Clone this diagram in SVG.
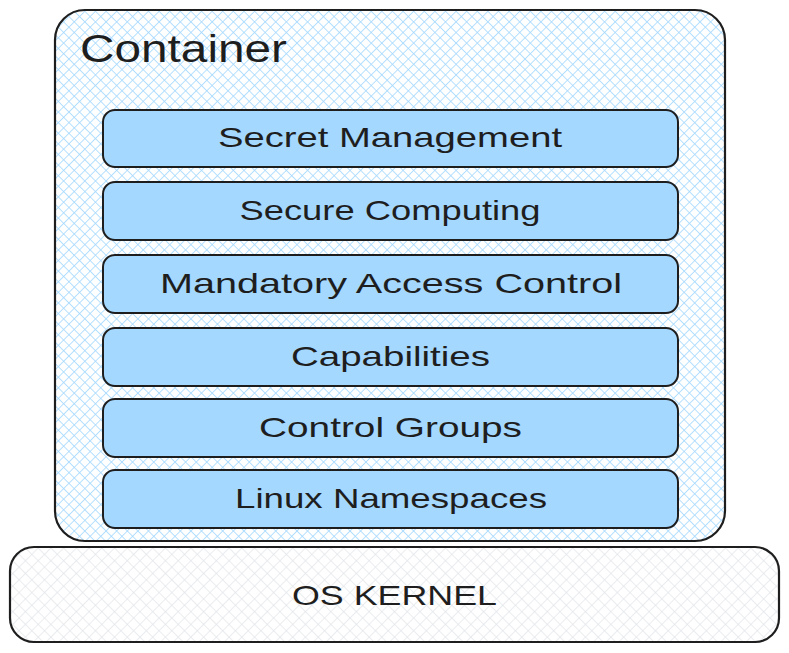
<svg xmlns="http://www.w3.org/2000/svg" width="789" height="653" viewBox="0 0 789 653">
<defs>
<pattern id="hb" patternUnits="userSpaceOnUse" width="7.5" height="7.5" patternTransform="rotate(45)">
<line x1="0" y1="0" x2="0" y2="7.5" stroke="#a5d8ff" stroke-width="1.6"/>
<line x1="0" y1="0" x2="7.5" y2="0" stroke="#a5d8ff" stroke-width="1.6"/>
</pattern>
<pattern id="hg" patternUnits="userSpaceOnUse" width="9" height="9" patternTransform="rotate(45)">
<line x1="0" y1="0" x2="0" y2="9" stroke="#e3e6ea" stroke-width="1.5"/>
<line x1="0" y1="0" x2="9" y2="0" stroke="#e3e6ea" stroke-width="1.5"/>
</pattern>
<style>
.box{stroke:#1e1e1e;stroke-width:2.2;}
.row{fill:#a5d8ff;stroke:#1e1e1e;stroke-width:2;}
.t{font-family:"Liberation Sans",Arial,sans-serif;fill:#1e1e1e;text-anchor:middle;}
.rt{font-size:28px;}
</style>
</defs>
<rect width="789" height="653" fill="#ffffff"/>
<g id="kernel">
<rect class="box" x="10" y="547" width="769" height="95" rx="24" fill="url(#hg)"/>
<text class="t" x="394.5" y="605" font-size="28" textLength="205" lengthAdjust="spacingAndGlyphs">OS KERNEL</text>
</g>
<g id="container">
<rect class="box" x="55" y="10" width="670" height="531" rx="30" fill="url(#hb)"/>
<text x="80" y="62" font-family="'Liberation Sans',Arial,sans-serif" font-size="38" fill="#1e1e1e" textLength="207" lengthAdjust="spacingAndGlyphs">Container</text>
</g>
<g id="secret-management">
<rect class="row" x="103" y="110" width="575" height="57" rx="12"/>
<text class="t rt" x="390" y="147" textLength="344" lengthAdjust="spacingAndGlyphs">Secret Management</text>
</g>
<g id="secure-computing">
<rect class="row" x="103" y="182" width="575" height="58" rx="12"/>
<text class="t rt" x="390" y="220" textLength="301" lengthAdjust="spacingAndGlyphs">Secure Computing</text>
</g>
<g id="mac">
<rect class="row" x="103" y="255" width="575" height="58" rx="12"/>
<text class="t rt" x="391" y="293" textLength="462" lengthAdjust="spacingAndGlyphs">Mandatory Access Control</text>
</g>
<g id="capabilities">
<rect class="row" x="103" y="328" width="575" height="58" rx="12"/>
<text class="t rt" x="390.5" y="366" textLength="199" lengthAdjust="spacingAndGlyphs">Capabilities</text>
</g>
<g id="control-groups">
<rect class="row" x="103" y="399" width="575" height="58" rx="12"/>
<text class="t rt" x="390.5" y="437" textLength="263" lengthAdjust="spacingAndGlyphs">Control Groups</text>
</g>
<g id="linux-namespaces">
<rect class="row" x="103" y="470" width="575" height="58" rx="12"/>
<text class="t rt" x="391" y="508" textLength="312" lengthAdjust="spacingAndGlyphs">Linux Namespaces</text>
</g>
<g id="connectors"/>
</svg>
